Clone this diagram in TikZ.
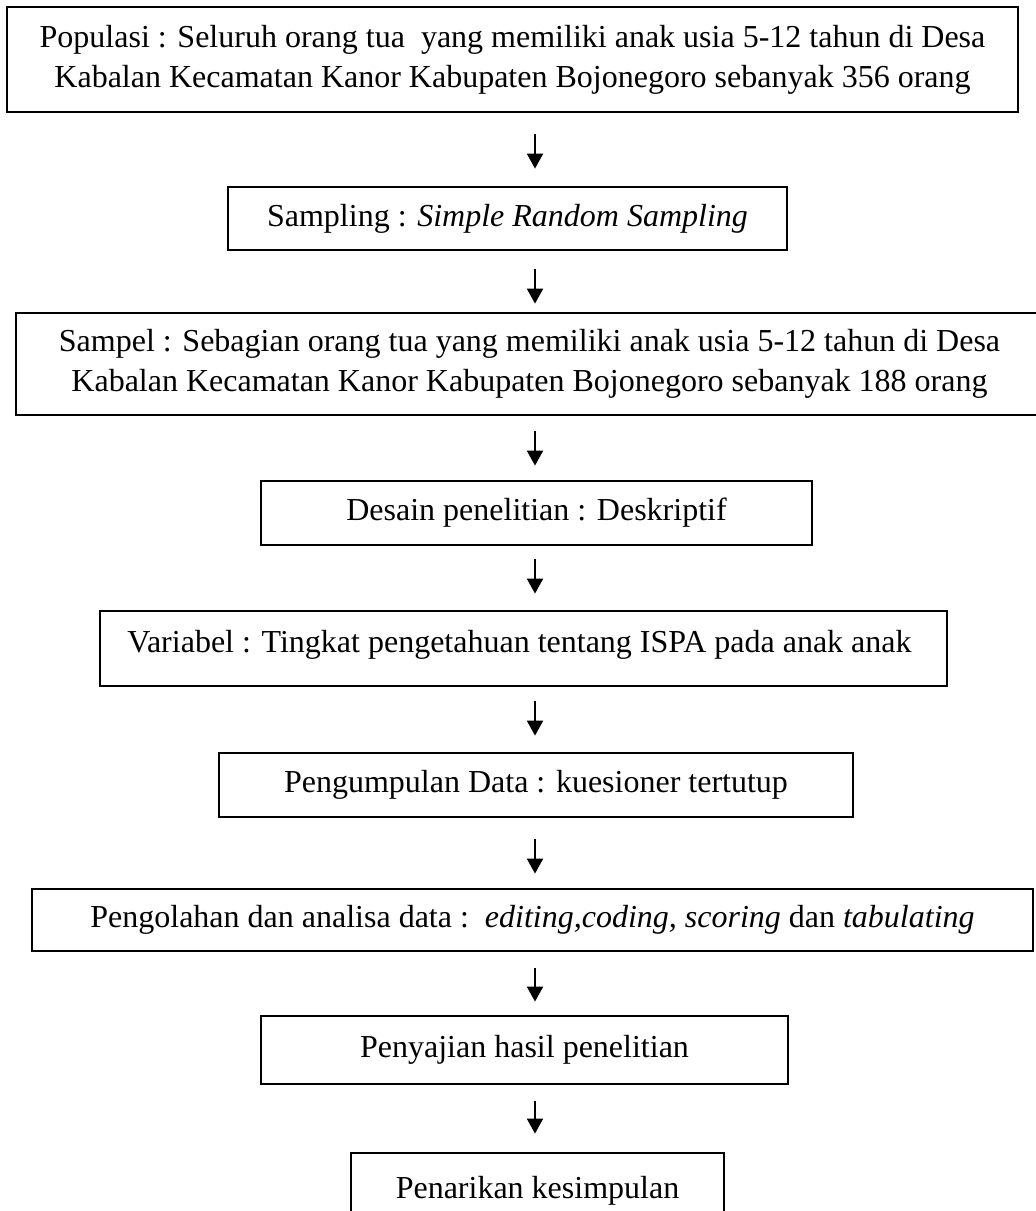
\documentclass[tikz,border=0pt]{standalone}
\usepackage{fontspec}
\setmainfont{Liberation Serif}
\usetikzlibrary{arrows.meta}
\begin{document}
\begin{tikzpicture}[x=1pt,y=-1pt,
  box/.style={draw, line width=2.8pt, inner sep=0pt, align=center,
    font=\fontsize{32}{40}\selectfont},
  arr/.style={line width=2pt, -{Triangle[width=16pt,length=15pt]}}]
\useasboundingbox (0,0) rectangle (1036,1211);
\coordinate (ax) at (535,0);
\node[box, minimum width=1011pt, minimum height=105pt] (pop) at (512.5,59.5)
  {Populasi : Seluruh orang tua\ \ yang memiliki anak usia 5-12 tahun di Desa\\
   Kabalan Kecamatan Kanor Kabupaten Bojonegoro sebanyak 356 orang};
\node[box, minimum width=559pt, minimum height=63pt] (samp) at (507.5,218.5)
  {Sampling : \textit{Simple Random Sampling}};
\node[box, minimum width=1027pt, minimum height=102pt] (sampel) at (529.5,364)
  {Sampel : Sebagian orang tua yang memiliki anak usia 5-12 tahun di Desa\\
   Kabalan Kecamatan Kanor Kabupaten Bojonegoro sebanyak 188 orang};
\node[box, minimum width=551pt, minimum height=64pt] (des) at (536.5,513)
  {Desain penelitian : Deskriptif};
\node[box, minimum width=847pt, minimum height=75pt, text depth=14pt] (var) at (523.5,648.5)
  {Variabel : Tingkat pengetahuan tentang ISPA pada anak anak\ };
\node[box, minimum width=634pt, minimum height=64pt] (peng) at (536,785)
  {Pengumpulan Data : kuesioner tertutup};
\node[box, minimum width=1001pt, minimum height=62pt] (olah) at (532.5,920)
  {Pengolahan dan analisa data :\ \ \textit{editing,coding, scoring} dan \textit{tabulating}};
\node[box, minimum width=527pt, minimum height=68pt] (saji) at (524.5,1050)
  {Penyajian hasil penelitian};
\node[box, minimum width=373pt, minimum height=76pt] (tarik) at (537.5,1191)
  {Penarikan kesimpulan};
\draw[arr, shorten <=21pt, shorten >=17pt] (pop.south -| ax) -- (samp.north -| ax);
\draw[arr, shorten <=18pt, shorten >=8pt] (samp.south -| ax) -- (sampel.north -| ax);
\draw[arr, shorten <=15pt, shorten >=14pt] (sampel.south -| ax) -- (des.north -| ax);
\draw[arr, shorten <=13pt, shorten >=16pt] (des.south -| ax) -- (var.north -| ax);
\draw[arr, shorten <=14pt, shorten >=16pt] (var.south -| ax) -- (peng.north -| ax);
\draw[arr, shorten <=21pt, shorten >=14pt] (peng.south -| ax) -- (olah.north -| ax);
\draw[arr, shorten <=16pt, shorten >=13pt] (olah.south -| ax) -- (saji.north -| ax);
\draw[arr, shorten <=16pt, shorten >=18pt] (saji.south -| ax) -- (tarik.north -| ax);
\end{tikzpicture}
\end{document}
